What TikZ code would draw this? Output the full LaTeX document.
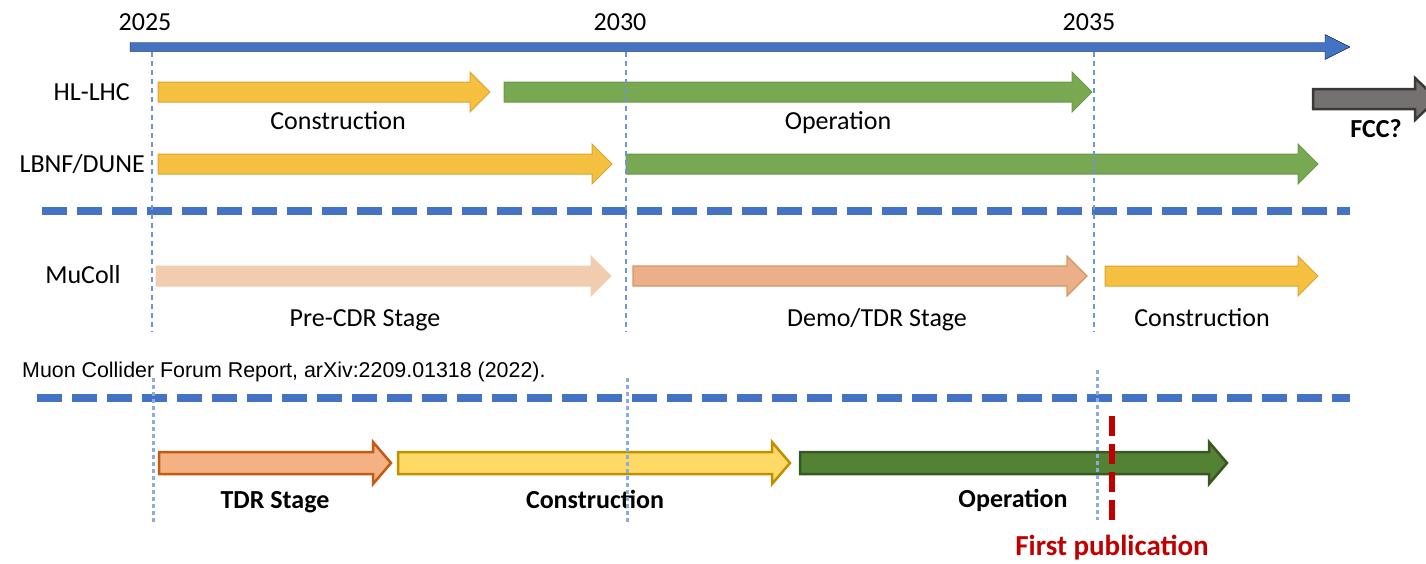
\documentclass[tikz,border=0pt]{standalone}
\usepackage{fontspec}
\setmainfont{Carlito}
\newfontfamily\arialfont{Liberation Sans}
\definecolor{axisblue}{HTML}{4472C4}
\definecolor{guideblue}{HTML}{6F95D8}
\definecolor{guidelight}{HTML}{8FAADC}
\definecolor{goldfill}{HTML}{F5C040}
\definecolor{golddraw}{HTML}{D9A530}
\definecolor{greenfill}{HTML}{79A853}
\definecolor{greendraw}{HTML}{6A9A48}
\definecolor{peachlight}{HTML}{F2CCAE}
\definecolor{peachfill}{HTML}{EBB08A}
\definecolor{peachdraw}{HTML}{D9935F}
\definecolor{grayfill}{HTML}{767171}
\definecolor{graydraw}{HTML}{3B3838}
\definecolor{tdrfill}{HTML}{F4B183}
\definecolor{tdrdraw}{HTML}{C55A11}
\definecolor{yelfill}{HTML}{FFD966}
\definecolor{yeldraw}{HTML}{BF9000}
\definecolor{dgfill}{HTML}{548235}
\definecolor{dgdraw}{HTML}{385723}
\definecolor{pubred}{HTML}{C00000}
% style, x1, x2, y, shaft half, head half, head length
\newcommand\blkarrow[7][]{%
  \draw[#1] (#2,#4-#5) -- (#3-#7,#4-#5) -- (#3-#7,#4-#6) -- (#3,#4)
    -- (#3-#7,#4+#6) -- (#3-#7,#4+#5) -- (#2,#4+#5) -- cycle;}
\begin{document}
\begin{tikzpicture}[x=1pt,y=-1pt,
  lbl/.style={font=\fontsize{26}{30}\selectfont, inner sep=0pt, anchor=base},
  blbl/.style={font=\fontsize{26}{30}\selectfont\bfseries, inner sep=0pt, anchor=base},
  publbl/.style={font=\fontsize{29}{33}\selectfont\bfseries, text=pubred, inner sep=0pt, anchor=base},
  citelbl/.style={font=\arialfont\fontsize{21.4}{25}\selectfont, inner sep=0pt, anchor=base west},
  sepline/.style={draw=axisblue, line width=8pt, dash pattern=on 25pt off 10pt},
  guideA/.style={draw=guideblue, line width=1.2pt, dash pattern=on 5pt off 4pt},
  guideB/.style={draw=guidelight, line width=3pt, dash pattern=on 4pt off 3pt},
  publine/.style={draw=pubred, line width=6pt, dash pattern=on 20pt off 8pt},
  goldarrow/.style={fill=goldfill, draw=golddraw, line width=1pt},
  greenarrow/.style={fill=greenfill, draw=greendraw, line width=1pt},
  precdrarrow/.style={fill=peachlight, draw=peachlight, line width=1pt},
  demoarrow/.style={fill=peachfill, draw=peachdraw, line width=1.2pt},
  fccarrow/.style={fill=grayfill, draw=graydraw, line width=2.5pt},
  tdrarrow/.style={fill=tdrfill, draw=tdrdraw, line width=2.5pt},
  yelarrow/.style={fill=yelfill, draw=yeldraw, line width=2.5pt},
  dgarrow/.style={fill=dgfill, draw=dgdraw, line width=2.5pt}]
\useasboundingbox (0,0) rectangle (1426,563);
% time axis
\blkarrow[fill=axisblue]{130}{1350}{47}{4.5}{12.5}{25}
\node[lbl] (y2025) at (145,30) {2025};
\node[lbl] (y2030) at (620,30) {2030};
\node[lbl] (y2035) at (1089,30) {2035};
% HL-LHC
\node[lbl, anchor=base east] (hllhc) at (130,100) {HL-LHC};
\blkarrow[goldarrow]{158}{490}{92}{10}{20}{20}
\blkarrow[greenarrow]{504}{1092}{92}{10}{20}{20}
\node[lbl] (constrA) at (338,129) {Construction};
\node[lbl] (operA) at (838,129) {Operation};
% FCC
\begin{scope}
\clip (0,0) rectangle (1426,563);
\blkarrow[fccarrow]{1313}{1437}{99}{10}{21}{22}
\end{scope}
\node[blbl] (fcc) at (1376,137) {FCC?};
% LBNF/DUNE
\node[lbl, anchor=base east] (dune) at (145,172) {LBNF/DUNE};
\blkarrow[goldarrow]{158}{612}{164}{10}{20}{20}
\blkarrow[greenarrow]{626}{1318}{164}{10}{20}{20}
% separator 1
\draw[sepline] (42,211) -- (1350,211);
% MuColl
\node[lbl] (mucoll) at (83,283) {MuColl};
\blkarrow[precdrarrow]{156}{611}{276}{10}{20}{20}
\blkarrow[demoarrow]{633}{1087}{276}{10}{20}{20}
\blkarrow[goldarrow]{1105}{1318}{276}{10}{20}{20}
\node[lbl] (precdr) at (365,326) {Pre-CDR Stage};
\node[lbl] (demo) at (877,326) {Demo/TDR Stage};
\node[lbl] (constrB) at (1202,326) {Construction};
% citation
\node[citelbl] (cite) at (22,377) {Muon Collider Forum Report, arXiv:2209.01318 (2022).};
% separator 2
\draw[sepline] (37,398) -- (1350,398);
% bottom row
\blkarrow[tdrarrow]{159}{391}{463}{11}{21}{18}
\blkarrow[yelarrow]{398}{790}{463}{11}{21}{18}
\blkarrow[dgarrow]{800}{1227}{463}{11}{21}{18}
\node[blbl] (tdr) at (275,508) {TDR Stage};
\node[blbl] (constrC) at (595,508) {Construction};
\node[blbl] (operC) at (1013,507) {Operation};
% guides
\draw[guideA] (152,52) -- (152,332);
\draw[guideA] (626,52) -- (626,332);
\draw[guideA] (1094,52) -- (1094,332);
\draw[guideB] (153,378) -- (153,522);
\draw[guideB] (627,378) -- (627,525);
\draw[guideB] (1097,370) -- (1097,520);
% first publication
\draw[publine] (1112,416) -- (1112,520);
\node[publbl] (firstpub) at (1112,555) {First publication};
\end{tikzpicture}
\end{document}
